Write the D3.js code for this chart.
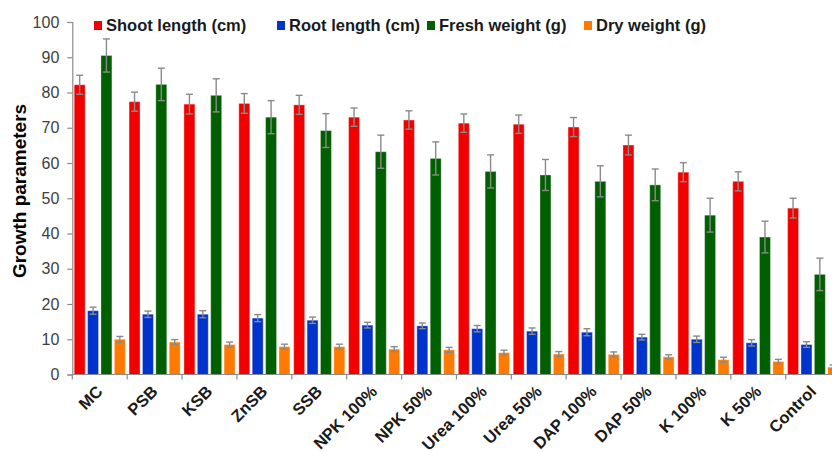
<!DOCTYPE html>
<html>
<head>
<meta charset="utf-8">
<script src="https://cdn.jsdelivr.net/npm/d3@7"></script>
<style>
  html, body { margin: 0; padding: 0; background: #fff; }
  svg { display: block; font-family: "Liberation Sans", Arial, sans-serif; }
</style>
</head>
<body>
<svg id="chart" width="832" height="453"></svg>
<script>
// Treatments on the x axis
const categories = ["MC", "PSB", "KSB", "ZnSB", "SSB", "NPK 100%", "NPK 50%",
  "Urea 100%", "Urea 50%", "DAP 100%", "DAP 50%", "K 100%", "K 50%", "Control"];

// Series names and colours
const seriesNames = ["Shoot length (cm)", "Root length (cm)", "Fresh weight (g)", "Dry weight (g)"];
const seriesColors = ["#f20000", "#0033cc", "#005f00", "#ff7a00"];

// Means per treatment
const shootLength = [82.2, 77.4, 76.7, 76.9, 76.5, 73.0, 72.2, 71.3, 71.0, 70.2, 65.1, 57.4, 54.8, 47.2];
const rootLength  = [18.1, 17.1, 17.1, 16.0, 15.4, 14.0, 13.8, 13.0, 12.3, 12.0, 10.6, 10.0, 9.0, 8.5];
const freshWeight = [90.5, 82.3, 79.2, 73.0, 69.2, 63.2, 61.3, 57.6, 56.6, 54.8, 53.8, 45.2, 39.0, 28.4];
const dryWeight   = [10.0, 9.2, 8.5, 7.9, 7.9, 7.2, 7.0, 6.2, 5.8, 5.7, 5.0, 4.2, 3.7, 2.1];

// Standard errors per treatment
const shootErr = [2.7, 2.7, 2.8, 2.8, 2.7, 2.6, 2.6, 2.6, 2.6, 2.7, 2.8, 2.7, 2.7, 2.8];
const rootErr  = [1.0, 0.9, 1.0, 1.0, 0.9, 0.8, 0.8, 0.9, 0.9, 1.0, 0.8, 0.9, 0.9, 0.8];
const freshErr = [4.7, 4.6, 4.7, 4.7, 4.8, 4.7, 4.7, 4.7, 4.4, 4.4, 4.5, 4.8, 4.5, 4.6];
const dryErr   = [0.8, 0.7, 0.7, 0.7, 0.7, 0.7, 0.7, 0.7, 0.7, 0.7, 0.6, 0.7, 0.6, 0.6];

// Y axis ticks
const yTicks = [0, 10, 20, 30, 40, 50, 60, 70, 80, 90, 100];

const values = [shootLength, rootLength, freshWeight, dryWeight];
const errors = [shootErr, rootErr, freshErr, dryErr];

const svg = d3.select("#chart");

const x0 = d3.scaleBand().domain(categories).range([72.3, 840.6]).padding(0);
const x1 = d3.scaleBand().domain(d3.range(seriesNames.length))
  .range([0, x0.bandwidth()]).paddingInner(0.18).paddingOuter(0.14);
const y = d3.scaleLinear().domain([0, 100]).range([374.5, 22]);

const rows = [];
categories.forEach((c, i) => {
  values.forEach((arr, s) => rows.push({ cat: c, s, v: arr[i], e: errors[s][i] }));
});

// Bars
svg.append("g").selectAll("rect").data(rows).join("rect")
  .attr("x", d => x0(d.cat) + x1(d.s))
  .attr("y", d => y(d.v))
  .attr("width", x1.bandwidth())
  .attr("height", d => y(0) - y(d.v))
  .attr("fill", d => seriesColors[d.s])
  .attr("stroke", "#ffffff")
  .attr("stroke-opacity", 0.35)
  .attr("stroke-width", 1);

// Error bars
const eg = svg.append("g").attr("stroke", "#8a8a8a").attr("stroke-width", 1.4).attr("fill", "none");
rows.forEach(d => {
  const cx = x0(d.cat) + x1(d.s) + x1.bandwidth() / 2;
  const capHalf = 3.5;
  eg.append("line").attr("x1", cx).attr("x2", cx).attr("y1", y(d.v + d.e)).attr("y2", y(d.v - d.e));
  eg.append("line").attr("x1", cx - capHalf).attr("x2", cx + capHalf).attr("y1", y(d.v + d.e)).attr("y2", y(d.v + d.e));
  eg.append("line").attr("x1", cx - capHalf).attr("x2", cx + capHalf).attr("y1", y(d.v - d.e)).attr("y2", y(d.v - d.e));
});

// Y axis
const yAxis = svg.append("g").attr("transform", "translate(72.3,0)")
  .call(d3.axisLeft(y).tickValues(yTicks).tickSize(5).tickPadding(8));
yAxis.select(".domain").attr("stroke", "#8a8a8a").attr("stroke-width", 1.2);
yAxis.selectAll(".tick line").attr("stroke", "#8a8a8a").attr("stroke-width", 1.2);
yAxis.selectAll(".tick text").attr("fill", "#404040")
  .style("font-size", "16px").style("font-family", "'Liberation Sans', Arial, sans-serif");

// X axis line and boundary ticks
const xg = svg.append("g");
xg.append("line").attr("x1", 72.3).attr("x2", 832).attr("y1", y(0)).attr("y2", y(0))
  .attr("stroke", "#8a8a8a").attr("stroke-width", 1.2);
xg.selectAll("line.tk").data(categories).join("line").attr("class", "tk")
  .attr("x1", d => x0(d)).attr("x2", d => x0(d))
  .attr("y1", y(0)).attr("y2", y(0) + 5)
  .attr("stroke", "#8a8a8a").attr("stroke-width", 1.2);

// Category labels, slanted
xg.selectAll("text").data(categories).join("text")
  .attr("transform", d => `translate(${x0(d) + x0.bandwidth() / 2 + 4},${y(0) + 18}) rotate(-45)`)
  .attr("text-anchor", "end")
  .attr("fill", "#1a1a1a")
  .style("font-size", "16.5px")
  .style("font-weight", "bold")
  .text(d => d);

// Y axis title
svg.append("text")
  .attr("transform", "translate(26,191) rotate(-90)")
  .attr("text-anchor", "middle")
  .attr("fill", "#000")
  .style("font-size", "19px")
  .style("font-weight", "bold")
  .text("Growth parameters");

// Legend
const legendX = [94, 277, 427, 584];
const lg = svg.append("g");
seriesNames.forEach((name, i) => {
  const g = lg.append("g").attr("transform", `translate(${legendX[i]},0)`);
  g.append("rect").attr("x", 0).attr("y", 21).attr("width", 8).attr("height", 9)
    .attr("fill", seriesColors[i]);
  g.append("text").attr("x", 12).attr("y", 31)
    .attr("fill", "#1a1a1a")
    .style("font-size", "16.5px").style("font-weight", "bold")
    .text(name);
});
</script>
</body>
</html>
